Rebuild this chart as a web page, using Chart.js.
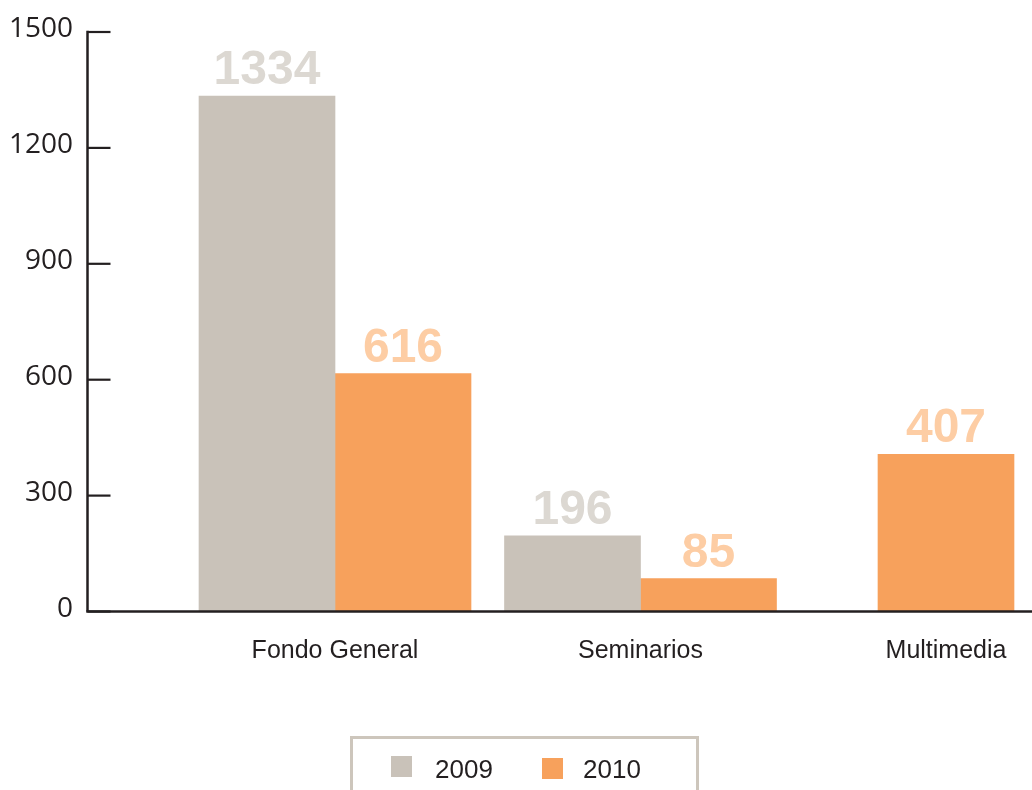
<!DOCTYPE html>
<html>
<head>
<meta charset="utf-8">
<script src="https://cdn.jsdelivr.net/npm/chart.js@4.4.1/dist/chart.umd.min.js"></script>
<style>
html,body{margin:0;padding:0;background:#fff;}
#wrap{position:relative;width:1032px;height:790px;overflow:hidden;background:#fff;}
#c{position:absolute;left:0;top:0;}
#legend{position:absolute;left:350px;top:736px;width:343px;height:90px;border:3px solid #cdc6bc;}
.sw{position:absolute;width:21px;height:21px;}
.lt{position:absolute;font-family:'Liberation Sans',Arial,sans-serif;font-size:26px;line-height:26px;color:#231f20;white-space:nowrap;}
</style>
</head>
<body>
<div id="wrap">
  <canvas id="c" width="1032" height="790"></canvas>
  <div id="legend"></div>
</div>
<script>
// ---- data ----
const categories = ['Fondo General', 'Seminarios', 'Multimedia'];
const seriesNames = ['2009', '2010'];
const values2009 = [1334, 196, null];
const values2010 = [616, 85, 407];
const yTickValues = [0, 300, 600, 900, 1200, 1500];

// ---- styles ----
const barColors = ['#c9c2b9', '#f7a15c'];
const valueLabelColors = ['#dcd8d2', '#fdcda4'];
const axisColor = '#231f20';

const seriesValues = [values2009, values2010];

const axesPlugin = {
  id: 'customAxes',
  afterDatasetsDraw(chart) {
    const ctx = chart.ctx;
    const y = chart.scales.y;
    // value labels above bars
    chart.data.datasets.forEach((ds, di) => {
      const meta = chart.getDatasetMeta(di);
      meta.data.forEach((el, i) => {
        const v = ds.data[i];
        if (v === null || v === undefined) return;
        ctx.save();
        ctx.font = 'bold 48px "Liberation Sans", Arial, sans-serif';
        ctx.fillStyle = valueLabelColors[di];
        ctx.textAlign = 'center';
        ctx.textBaseline = 'alphabetic';
        ctx.fillText(String(v), el.x, el.y - 12);
        ctx.restore();
      });
    });
    // axes
    const axisX = 87.5;
    const y0 = y.getPixelForValue(0);
    const yTop = y.getPixelForValue(yTickValues[yTickValues.length - 1]);
    ctx.save();
    ctx.strokeStyle = axisColor;
    ctx.lineWidth = 2.5;
    ctx.beginPath();
    ctx.moveTo(axisX, yTop - 1.2);
    ctx.lineTo(axisX, y0);
    ctx.stroke();
    // x axis baseline
    ctx.beginPath();
    ctx.moveTo(axisX - 1.25, y0);
    ctx.lineTo(chart.width, y0);
    ctx.stroke();
    // ticks + labels
    ctx.lineWidth = 2.2;
    ctx.font = '28px "Open Sans", sans-serif';
    ctx.fillStyle = axisColor;
    ctx.textAlign = 'right';
    ctx.textBaseline = 'alphabetic';
    yTickValues.forEach(v => {
      const py = y.getPixelForValue(v);
      ctx.beginPath();
      ctx.moveTo(axisX, py);
      ctx.lineTo(110.5, py);
      ctx.stroke();
      ctx.fillText(String(v), 73, py + 5);
    });
    ctx.restore();
  }
};

const chart = new Chart(document.getElementById('c'), {
  type: 'bar',
  data: {
    labels: categories,
    datasets: seriesNames.map((name, i) => ({
      label: name,
      data: seriesValues[i],
      backgroundColor: barColors[i],
      borderWidth: 0,
      barThickness: 136,
      skipNull: true,
      clip: false
    }))
  },
  options: {
    responsive: false,
    animation: false,
    devicePixelRatio: 1,
    layout: { padding: { left: 335, right: 86, top: 32, bottom: 118.5 } },
    plugins: { legend: { display: false }, tooltip: { enabled: false } },
    scales: {
      x: {
        type: 'category',
        offset: false,
        grid: { display: false, drawTicks: false },
        border: { display: false },
        ticks: {
          color: axisColor,
          padding: 25,
          font: { family: '"Liberation Sans", Arial, sans-serif', size: 25 },
          maxRotation: 0,
          autoSkip: false
        },
        afterFit(scale) { scale.height = 60; }
      },
      y: {
        display: false,
        min: 0,
        max: 1500,
        ticks: { stepSize: 300 }
      }
    }
  },
  plugins: [axesPlugin]
});

// HTML legend built from the series
const legend = document.getElementById('legend');
const swLeft = [38, 189], swTop = [17, 19], txtLeft = [82, 230];
seriesNames.forEach((name, i) => {
  const sw = document.createElement('div');
  sw.className = 'sw';
  sw.style.left = swLeft[i] + 'px';
  sw.style.top = swTop[i] + 'px';
  sw.style.background = barColors[i];
  legend.appendChild(sw);
  const t = document.createElement('div');
  t.className = 'lt';
  t.style.left = txtLeft[i] + 'px';
  t.style.top = '17px';
  t.textContent = name;
  legend.appendChild(t);
});
</script>
</body>
</html>
